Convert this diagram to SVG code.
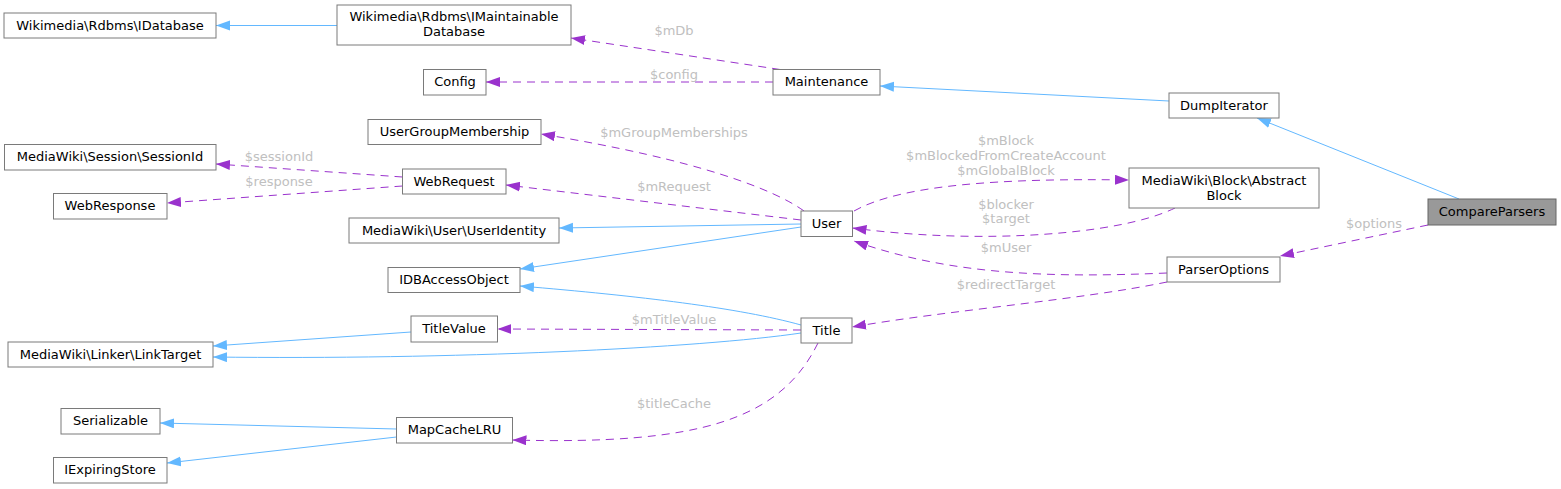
<svg xmlns="http://www.w3.org/2000/svg" width="1561" height="489" viewBox="0 0 1561 489">
<style>
.n rect{fill:#fff;stroke:#7a7a7a;stroke-width:1}
.n.focus rect{fill:#999;stroke:#666}
text{font-family:"DejaVu Sans","Liberation Sans",sans-serif;font-size:13px;text-anchor:middle}
.n text{fill:#000}
.lbl{fill:#c0c0c0}
.inh{fill:none;stroke:#63b8ff;stroke-width:1;marker-end:url(#ab)}
.use{fill:none;stroke:#9a32cd;stroke-width:1;stroke-dasharray:8,6;marker-end:url(#ap)}
</style>
<defs>
<marker id="ab" markerUnits="userSpaceOnUse" markerWidth="16" markerHeight="12" refX="14" refY="5" orient="auto"><path d="M0,0 L14,5 L0,10 z" fill="#63b8ff"/></marker>
<marker id="ap" markerUnits="userSpaceOnUse" markerWidth="16" markerHeight="12" refX="14" refY="5" orient="auto"><path d="M0,0 L14,5 L0,10 z" fill="#9a32cd"/></marker>
</defs>
<rect width="1561" height="489" fill="#fff"/>
<g id="connectors">
<path class="inh" d="M337,25.5 L216,25.5"/>
<path class="inh" d="M1169,101 L880,86"/>
<path class="inh" d="M1459,199 L1257,118"/>
<path class="inh" d="M801,224 L559,228"/>
<path class="inh" d="M801,227 L520,269"/>
<path class="inh" d="M801,325 C 740,308 640,296 520,286"/>
<path class="inh" d="M411,332 L213,346"/>
<path class="inh" d="M801,333 C 700,348 450,360 213,357"/>
<path class="inh" d="M396.5,429 L160,423"/>
<path class="inh" d="M396.5,437 L167,463"/>
<path class="use" d="M780,69.5 L571,38"/>
<path class="use" d="M773,82 L486,82"/>
<path class="use" d="M1428,225 L1280,256"/>
<path class="use" d="M804,211 C 775,190 700,160 541,134"/>
<path class="use" d="M801,220 L506,185"/>
<path class="use" d="M402.5,177 L216,164"/>
<path class="use" d="M402.5,186 L167,203"/>
<path class="use" d="M854,211 C 900,185 1000,178 1129,180"/>
<path class="use" d="M1175,208 C 1120,235 980,245 852.5,228"/>
<path class="use" d="M1167,273 C 1050,278 950,275 854,241"/>
<path class="use" d="M1167,282 C 1080,300 950,310 852,327"/>
<path class="use" d="M801,330 L497.5,329"/>
<path class="use" d="M818,343 C 780,420 700,445 512.5,440"/>
<text class="lbl" x="674" y="35">$mDb</text>
<text class="lbl" x="674" y="79">$config</text>
<text class="lbl" x="1374" y="228">$options</text>
<text class="lbl" x="674" y="137">$mGroupMemberships</text>
<text class="lbl" x="674" y="191">$mRequest</text>
<text class="lbl" x="279" y="161">$sessionId</text>
<text class="lbl" x="279" y="186">$response</text>
<text class="lbl" x="1006" y="145">$mBlock</text>
<text class="lbl" x="1006" y="160">$mBlockedFromCreateAccount</text>
<text class="lbl" x="1006" y="175">$mGlobalBlock</text>
<text class="lbl" x="1006" y="209">$blocker</text>
<text class="lbl" x="1006" y="223">$target</text>
<text class="lbl" x="1006" y="252">$mUser</text>
<text class="lbl" x="1006" y="289">$redirectTarget</text>
<text class="lbl" x="674" y="324">$mTitleValue</text>
<text class="lbl" x="674" y="408">$titleCache</text>
</g>
<g id="IDatabase" class="n"><rect x="4" y="13" width="212" height="25"/><text x="110" y="29.5">Wikimedia\Rdbms\IDatabase</text></g>
<g id="IMaintainableDatabase" class="n"><rect x="337" y="5" width="234" height="40"/><text x="454" y="21">Wikimedia\Rdbms\IMaintainable</text><text x="454" y="36">Database</text></g>
<g id="Config" class="n"><rect x="423.5" y="69.5" width="62.5" height="25.5"/><text x="455" y="86">Config</text></g>
<g id="Maintenance" class="n"><rect x="773" y="69.5" width="107" height="25.5"/><text x="826.5" y="86">Maintenance</text></g>
<g id="DumpIterator" class="n"><rect x="1169" y="93" width="110" height="25"/><text x="1224" y="109.5">DumpIterator</text></g>
<g id="CompareParsers" class="n focus"><rect x="1428" y="199" width="128" height="26"/><text x="1492" y="215.5">CompareParsers</text></g>
<g id="AbstractBlock" class="n"><rect x="1129" y="168" width="190" height="40"/><text x="1224" y="184.5">MediaWiki\Block\Abstract</text><text x="1224" y="199.5">Block</text></g>
<g id="ParserOptions" class="n"><rect x="1167" y="257" width="113" height="25"/><text x="1223.5" y="273.5">ParserOptions</text></g>
<g id="UserGroupMembership" class="n"><rect x="368" y="119.5" width="173" height="25"/><text x="454.5" y="136">UserGroupMembership</text></g>
<g id="SessionId" class="n"><rect x="4.5" y="144.5" width="211.5" height="25.5"/><text x="110" y="161">MediaWiki\Session\SessionId</text></g>
<g id="WebRequest" class="n"><rect x="402.5" y="169" width="103.5" height="25"/><text x="454" y="185.5">WebRequest</text></g>
<g id="WebResponse" class="n"><rect x="53.5" y="193.5" width="113.5" height="25.5"/><text x="110" y="210">WebResponse</text></g>
<g id="UserIdentity" class="n"><rect x="349" y="218" width="210" height="25"/><text x="454" y="234.5">MediaWiki\User\UserIdentity</text></g>
<g id="IDBAccessObject" class="n"><rect x="388" y="267.5" width="132" height="25"/><text x="454" y="284">IDBAccessObject</text></g>
<g id="User" class="n"><rect x="801" y="211" width="51.5" height="25.5"/><text x="826.5" y="227.5">User</text></g>
<g id="TitleValue" class="n"><rect x="411" y="316" width="86.5" height="26"/><text x="454" y="332.5">TitleValue</text></g>
<g id="LinkTarget" class="n"><rect x="8" y="342" width="205" height="25"/><text x="110.5" y="358.5">MediaWiki\Linker\LinkTarget</text></g>
<g id="Serializable" class="n"><rect x="61" y="408.5" width="99" height="25.5"/><text x="110.5" y="425">Serializable</text></g>
<g id="MapCacheLRU" class="n"><rect x="396.5" y="417.5" width="116" height="25.5"/><text x="454.5" y="434">MapCacheLRU</text></g>
<g id="IExpiringStore" class="n"><rect x="53.5" y="457.5" width="113.5" height="25.5"/><text x="110" y="474">IExpiringStore</text></g>
<g id="Title" class="n"><rect x="801" y="318" width="51" height="25"/><text x="826.5" y="334.5">Title</text></g>
</svg>
